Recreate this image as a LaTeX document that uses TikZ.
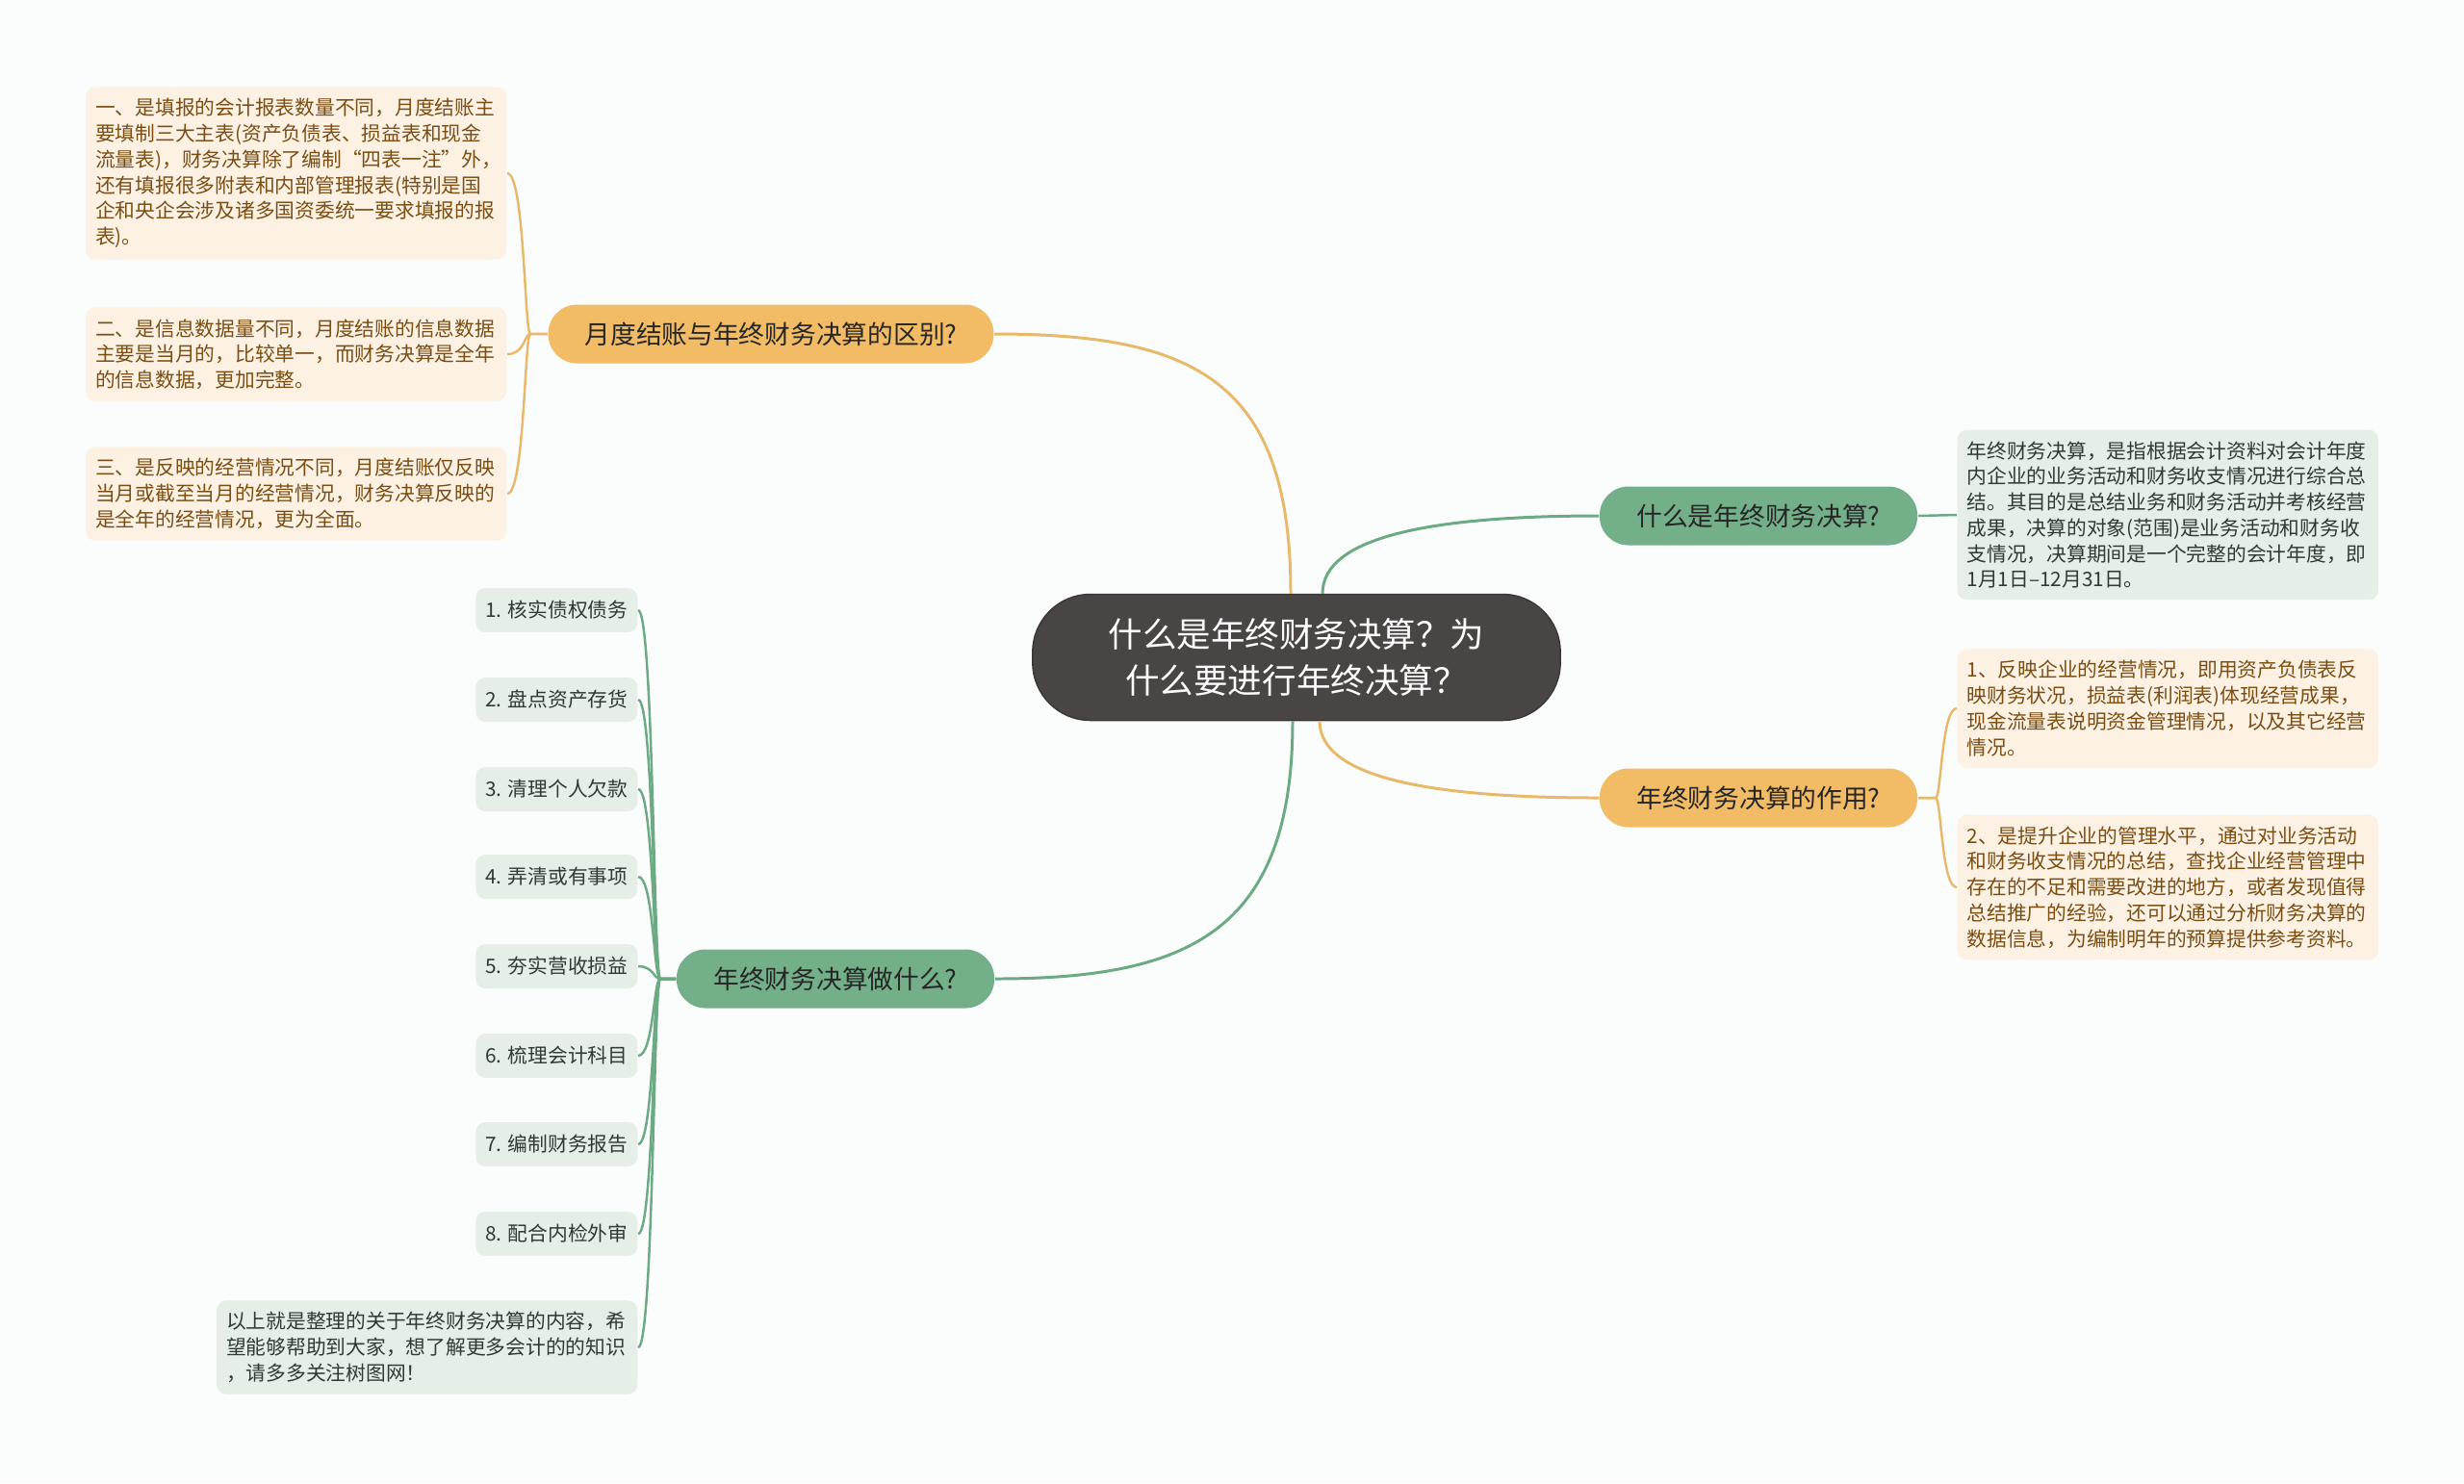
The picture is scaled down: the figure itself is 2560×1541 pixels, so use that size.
\documentclass[tikz,border=0pt]{standalone}
\usepackage{fontspec}
\setmainfont{Noto Sans CJK SC}
\definecolor{bgcol}{HTML}{FBFDFD}
\definecolor{rootcol}{HTML}{4A4545}
\definecolor{orcol}{HTML}{F1BC65}
\definecolor{orline}{HTML}{E8B96B}
\definecolor{orleaf}{HTML}{FDF1E4}
\definecolor{ortext}{HTML}{7A4E12}
\definecolor{grcol}{HTML}{73B08A}
\definecolor{grline}{HTML}{6CAA84}
\definecolor{grleaf}{HTML}{E5EFE7}
\definecolor{grtext}{HTML}{2F3A31}
\begin{document}
\begin{tikzpicture}[x=0.01cm, y=-0.01cm,
	rootnode/.style={fill=rootcol, draw=rootcol!80!black, text=white, rounded corners=0.6cm,
		minimum width=5.48cm, minimum height=1.31cm, align=center,
		font=\fontsize{10.1}{13.4}\selectfont},
	subnode/.style={rounded corners=0.3cm, minimum width=3.3cm, minimum height=0.61cm,
		inner xsep=0.38cm, text=black!85, font=\fontsize{7.6}{9}\selectfont},
	subo/.style={subnode, fill=orcol},
	subg/.style={subnode, fill=grcol},
	leafnode/.style={rounded corners=0.1cm, text width=4.17cm, align=left,
		inner xsep=0.1cm, inner ysep=0.12cm, font=\fontsize{5.9}{7.6}\selectfont},
	leafo/.style={leafnode, fill=orleaf, text=ortext},
	leafg/.style={leafnode, fill=grleaf, text=grtext},
	itemg/.style={fill=grleaf, text=grtext, rounded corners=0.1cm, anchor=east,
		minimum height=0.46cm, inner xsep=0.1cm, font=\fontsize{5.9}{7.6}\selectfont},
	linko/.style={draw=orline, line width=0.85pt},
	linkg/.style={draw=grline, line width=0.85pt},
	]
	%background
	\fill[bgcol] (0,0) rectangle (2560,1541);
	%root
	\node[rootnode] (root) at (1347,683) {什么是年终财务决算？为\\什么要进行年终决算？};
	%branches
	\node[subo] (yue) at (801,347) {月度结账与年终财务决算的区别?};
	\node[subg] (sm) at (1827,536) {什么是年终财务决算?};
	\node[subo] (zy) at (1827,829) {年终财务决算的作用?};
	\node[subg] (zuo) at (868,1017) {年终财务决算做什么?};
	%leaves left top
	\node[leafo, anchor=east] (yue1) at (527,180) {一、是填报的会计报表数量不同，月度结账主\\要填制三大主表(资产负债表、损益表和现金\\流量表)，财务决算除了编制“四表一注”外，\\还有填报很多附表和内部管理报表(特别是国\\企和央企会涉及诸多国资委统一要求填报的报\\表)。};
	\node[leafo, anchor=east] (yue2) at (527,368) {二、是信息数据量不同，月度结账的信息数据\\主要是当月的，比较单一，而财务决算是全年\\的信息数据，更加完整。};
	\node[leafo, anchor=east] (yue3) at (527,513) {三、是反映的经营情况不同，月度结账仅反映\\当月或截至当月的经营情况，财务决算反映的\\是全年的经营情况，更为全面。};
	%leaves right
	\node[leafg, anchor=west] (dingyi) at (2033,535) {年终财务决算，是指根据会计资料对会计年度\\内企业的业务活动和财务收支情况进行综合总\\结。其目的是总结业务和财务活动并考核经营\\成果，决算的对象(范围)是业务活动和财务收\\支情况，决算期间是一个完整的会计年度，即\\1月1日–12月31日。};
	\node[leafo, anchor=west] (zy1) at (2033,736) {1、反映企业的经营情况，即用资产负债表反\\映财务状况，损益表(利润表)体现经营成果，\\现金流量表说明资金管理情况，以及其它经营\\情况。};
	\node[leafo, anchor=west] (zy2) at (2033,922) {2、是提升企业的管理水平，通过对业务活动\\和财务收支情况的总结，查找企业经营管理中\\存在的不足和需要改进的地方，或者发现值得\\总结推广的经验，还可以通过分析财务决算的\\数据信息，为编制明年的预算提供参考资料。};
	%leaves left bottom
	\node[leafg, anchor=east] (beizhu) at (663,1400) {以上就是整理的关于年终财务决算的内容，希\\望能够帮助到大家，想了解更多会计的的知识\\，请多多关注树图网！};
	%links root
	\draw[linko] ([xshift=-0.06cm]root.north) .. controls +(0,-220) and +(210,0) .. (yue.east);
	\draw[linkg] ([xshift=0.27cm]root.north) .. controls +(0,-60) and +(-170,0) .. (sm.west);
	\draw[linko] ([xshift=0.24cm]root.south) .. controls +(0,60) and +(-170,0) .. (zy.west);
	\draw[linkg] ([xshift=-0.04cm]root.south) .. controls +(0,220) and +(200,0) .. (zuo.east);
	%links leaves
	\coordinate (yuej) at (551,347);
	\coordinate (yuec) at (545,347);
	\foreach \n in {yue1,yue2,yue3}
	\draw[linko, line width=0.7pt] (yue.west) -- (yuej) .. controls (yuec) and (yuec |- \n.east) .. (\n.east);
	\draw[linkg, line width=0.7pt] (sm.east) -- (dingyi.west);
	\coordinate (zyj) at (2011,829);
	\coordinate (zyc) at (2017,829);
	\foreach \n in {zy1,zy2}
	\draw[linko, line width=0.7pt] (zy.east) -- (zyj) .. controls (zyc) and (zyc |- \n.west) .. (\n.west);
	\coordinate (zuoj) at (686,1017);
	\coordinate (zuoc) at (679,1017);
	\foreach \i/\txt/\yy in {1/核实债权债务/634, 2/盘点资产存货/727, 3/清理个人欠款/820,
		4/弄清或有事项/911, 5/夯实营收损益/1004, 6/梳理会计科目/1097,
		7/编制财务报告/1189, 8/配合内检外审/1282}
	{
		\node[itemg] (item\i) at (663,\yy) {\i. \txt};
		\draw[linkg, line width=0.7pt] (zuo.west) -- (zuoj) .. controls (zuoc) and (zuoc |- item\i.east) .. (item\i.east);
	}
	\draw[linkg, line width=0.7pt] (zuo.west) -- (zuoj) .. controls (zuoc) and (zuoc |- beizhu.east) .. (beizhu.east);
\end{tikzpicture}
\end{document}
